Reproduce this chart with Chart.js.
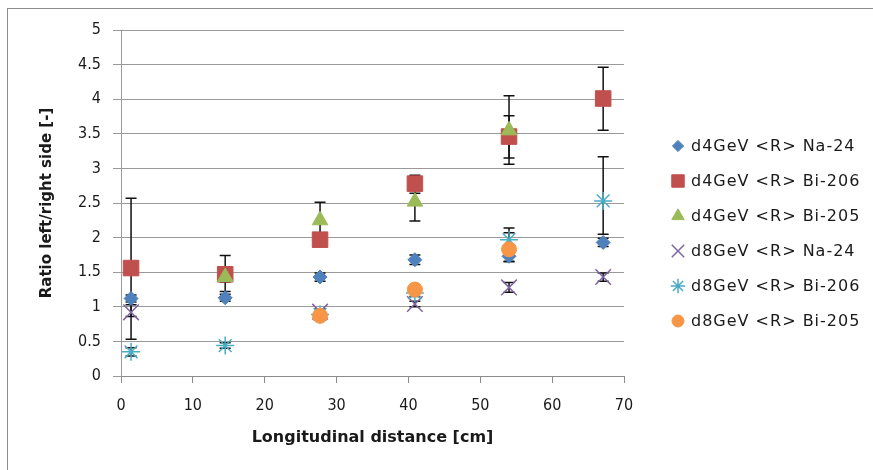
<!DOCTYPE html>
<html>
<head>
<meta charset="utf-8">
<script src="https://cdn.jsdelivr.net/npm/chart.js@4.4.1/dist/chart.umd.min.js"></script>
<style>
  html, body { margin: 0; padding: 0; background: #fff; overflow: hidden; }
  #wrap { position: relative; width: 873px; height: 470px; }
  #frame { position: absolute; left: 7px; top: 8px; width: 900px; height: 500px; border: 1px solid #8c8c8c; box-sizing: border-box; }
  canvas { position: absolute; left: 0; top: 0; }
</style>
</head>
<body>
<div id="wrap">
  <div id="frame"></div>
  <canvas id="ratioChart" width="873" height="470"></canvas>
</div>
<script>
// 資料 - 各測點縱向位置 (cm)
const xPos = [1.4, 14.5, 27.7, 40.9, 54.0, 67.1];

const seriesNames = [
    'd4GeV <R> Na-24',
    'd4GeV <R> Bi-206',
    'd4GeV <R> Bi-205',
    'd8GeV <R> Na-24',
    'd8GeV <R> Bi-206',
    'd8GeV <R> Bi-205'
];

const d4Na24 = [1.12, 1.13, 1.43, 1.68, 1.73, 1.93];
const d4Bi206 = [1.56, 1.47, 1.97, 2.78, 3.46, 4.01];
const d4Bi205 = [null, 1.43, 2.25, 2.52, 3.55, null];
const d8Na24 = [0.92, null, 0.93, 1.04, 1.28, 1.43];
const d8Bi206 = [0.35, 0.44, 0.89, 1.20, 1.97, 2.53];
const d8Bi205 = [null, null, 0.87, 1.25, 1.83, null];

// 誤差棒 [下限, 上限]
const d4Na24Bars = [[1.07, 1.17], [1.08, 1.18], [1.37, 1.49], [1.61, 1.75], [1.66, 1.80], [1.87, 1.99]];
const d4Bi206Bars = [[0.53, 2.57], [1.22, 1.74], [1.92, 2.02], [2.64, 2.90], [3.15, 3.76], [3.55, 4.46]];
const d4Bi205Bars = [null, [1.36, 1.50], [1.99, 2.51], [2.24, 2.80], [3.06, 4.05], null];
const d8Na24Bars = [[0.86, 1.03], null, [0.89, 0.97], [1.00, 1.08], [1.21, 1.35], [1.37, 1.49]];
const d8Bi206Bars = [[0.29, 0.41], [0.40, 0.48], [0.85, 0.93], [1.15, 1.25], [1.80, 2.14], [2.05, 3.17]];
const d8Bi205Bars = [null, null, null, null, [1.65, 2.07], null];

const yTicks = [0, 0.5, 1, 1.5, 2, 2.5, 3, 3.5, 4, 4.5, 5];

const allValues = [d4Na24, d4Bi206, d4Bi205, d8Na24, d8Bi206, d8Bi205];
const allBars = [d4Na24Bars, d4Bi206Bars, d4Bi205Bars, d8Na24Bars, d8Bi206Bars, d8Bi205Bars];

const colors = ['#4f81bd', '#c0504d', '#9bbb59', '#8064a2', '#4bacc6', '#f79646'];
const styles = ['rectRot', 'rect', 'triangle', 'crossRot', 'star', 'circle'];
const radii = [7, 11, 9, 11, 9, 7.5];

function toPoints(values, bars) {
    const pts = [];
    values.forEach(function (v, i) {
        if (v === null) return;
        pts.push({ x: xPos[i], y: v, bar: bars[i] });
    });
    return pts;
}

const datasets = seriesNames.map(function (name, i) {
    const lineOnly = styles[i] === 'crossRot' || styles[i] === 'star';
    return {
        label: name,
        data: toPoints(allValues[i], allBars[i]),
        pointStyle: styles[i],
        pointRadius: radii[i],
        pointHoverRadius: radii[i],
        backgroundColor: colors[i],
        borderColor: colors[i],
        pointBorderWidth: lineOnly ? 1.5 : 1,
        showLine: false,
        order: seriesNames.length - i   // later series drawn on top, like Excel
    };
});

// 誤差棒 plugin
const errorBarPlugin = {
    id: 'errorBars',
    beforeDatasetsDraw: function (chart) {
        const { ctx, scales } = chart;
        ctx.save();
        ctx.strokeStyle = '#111';
        ctx.lineWidth = 1.5;
        chart.data.datasets.forEach(function (ds) {
            ds.data.forEach(function (p) {
                if (!p.bar) return;
                const x = scales.x.getPixelForValue(p.x);
                const y0 = scales.y.getPixelForValue(p.bar[0]);
                const y1 = scales.y.getPixelForValue(p.bar[1]);
                ctx.beginPath();
                ctx.moveTo(x, y0); ctx.lineTo(x, y1);
                ctx.moveTo(x - 5.5, y0); ctx.lineTo(x + 5.5, y0);
                ctx.moveTo(x - 5.5, y1); ctx.lineTo(x + 5.5, y1);
                ctx.stroke();
            });
        });
        ctx.restore();
    }
};

// 圖例 plugin
const legendPlugin = {
    id: 'sideLegend',
    afterDraw: function (chart) {
        const { ctx } = chart;
        ctx.save();
        ctx.font = '16px "DejaVu Sans", sans-serif';
        ctx.letterSpacing = '1px';
        ctx.textBaseline = 'middle';
        ctx.textAlign = 'left';
        chart.data.datasets.forEach(function (ds, i) {
            const y = 146 + 35 * i;
            const x = 678;
            ctx.fillStyle = ds.backgroundColor;
            ctx.strokeStyle = ds.borderColor;
            ctx.lineWidth = ds.pointBorderWidth;
            Chart.helpers.drawPoint(ctx, {
                pointStyle: ds.pointStyle,
                radius: ds.pointRadius * 0.8,
                rotation: 0,
                borderWidth: ds.pointBorderWidth
            }, x, y);
            ctx.fillStyle = '#1a1a1a';
            ctx.fillText(ds.label, 691, y + 1);
        });
        ctx.restore();
    }
};

new Chart(document.getElementById('ratioChart'), {
    type: 'scatter',
    data: { datasets: datasets },
    options: {
        responsive: false,
        animation: false,
        layout: { padding: { top: 30, right: 249, left: 0, bottom: 0 } },
        plugins: {
            legend: { display: false },
            tooltip: { enabled: false }
        },
        scales: {
            x: {
                type: 'linear',
                min: 0,
                max: 70,
                afterFit: function (scale) { scale.height = 94; },
                ticks: {
                    stepSize: 10,
                    color: '#1a1a1a',
                    padding: 13,
                    font: { family: '"Liberation Sans Narrow", "DejaVu Sans Condensed", sans-serif', size: 16 }
                },
                grid: {
                    drawOnChartArea: false,
                    drawTicks: true,
                    tickLength: 7,
                    color: '#8c8c8c'
                },
                border: { color: '#8c8c8c', width: 1 },
                title: {
                    display: true,
                    text: 'Longitudinal distance [cm]',
                    color: '#1a1a1a',
                    font: { family: '"DejaVu Sans", sans-serif', size: 16, weight: 'bold' },
                    padding: { top: 0, bottom: 23 }
                }
            },
            y: {
                min: 0,
                max: 5,
                afterFit: function (scale) { scale.width = 121; },
                afterBuildTicks: function (scale) {
                    scale.ticks = yTicks.map(function (v) { return { value: v }; });
                },
                ticks: {
                    color: '#1a1a1a',
                    padding: 12,
                    callback: function (v) { return String(v); },
                    font: { family: '"Liberation Sans Narrow", "DejaVu Sans Condensed", sans-serif', size: 16 }
                },
                grid: {
                    color: '#9a9a9a',
                    lineWidth: 1,
                    tickLength: 8
                },
                border: { color: '#9a9a9a', width: 1 },
                title: {
                    display: true,
                    text: 'Ratio left/right side [-]',
                    color: '#1a1a1a',
                    font: { family: '"DejaVu Sans", sans-serif', size: 15, weight: 'bold' },
                    padding: { top: 38, bottom: 0 }
                }
            }
        }
    },
    plugins: [errorBarPlugin, legendPlugin]
});
</script>
</body>
</html>
